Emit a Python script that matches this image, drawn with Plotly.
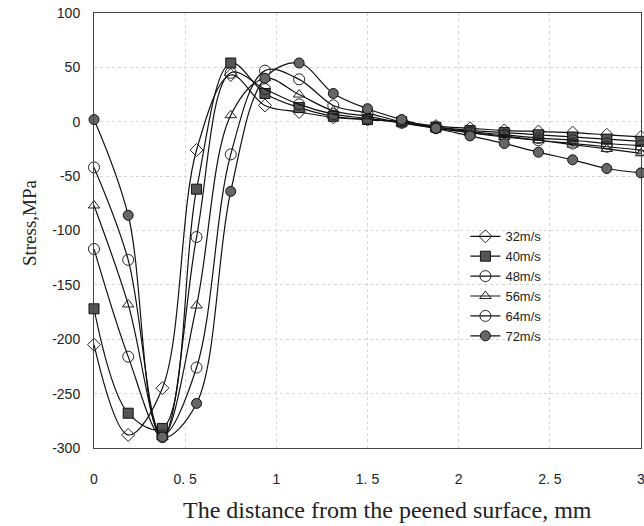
import plotly.graph_objects as go

# depth positions (mm)
depth = [0, 0.1875, 0.375, 0.5625, 0.75, 0.9375, 1.125, 1.3125, 1.5, 1.6875,
         1.875, 2.0625, 2.25, 2.4375, 2.625, 2.8125, 3.0]

speed_labels = ["32m/s", "40m/s", "48m/s", "56m/s", "64m/s", "72m/s"]

s32 = [-205, -288, -245, -26, 43, 15, 9, 4, 2, 0, -4, -6, -8, -9, -10, -12, -14]
s40 = [-172, -268, -282, -62, 54, 26, 13, 5, 2, 0, -5, -8, -10, -12, -14, -16, -18]
s48 = [-117, -216, -290, -106, 45, 30, 16, 7, 3, -1, -5, -9, -12, -15, -17, -20, -22]
s56 = [-77, -168, -290, -169, 6, 40, 25, 10, 5, -1, -6, -10, -14, -17, -21, -25, -29]
s64 = [-42, -127, -288, -226, -30, 47, 39, 15, 8, 0, -6, -10, -13, -17, -20, -23, -26]
s72 = [2, -86, -290, -259, -64, 40, 54, 26, 12, 2, -6, -13, -20, -28, -35, -43, -47]

x_tickvals = [0, 0.5, 1, 1.5, 2, 2.5, 3]
x_ticktext = ["0", "0. 5", "1", "1. 5", "2", "2. 5", "3"]
y_tickvals = [100, 50, 0, -50, -100, -150, -200, -250, -300]
y_ticktext = ["100", "50", "0", "-50", "-100", "-150", "-200", "-250", "-300"]

x_title = "The distance from the peened surface, mm"
y_title = "Stress,MPa"

series = [s32, s40, s48, s56, s64, s72]
styles = [
    dict(symbol="diamond-open", size=10, color="#222"),
    dict(symbol="square", size=10, color="#555", line=dict(color="#111", width=1)),
    dict(symbol="circle-open", size=11, color="#222"),
    dict(symbol="triangle-up-open", size=10, color="#222"),
    dict(symbol="circle-open", size=11, color="#222"),
    dict(symbol="circle", size=10, color="#666", line=dict(color="#111", width=1)),
]

fig = go.Figure()
for name, ys, mk in zip(speed_labels, series, styles):
    fig.add_trace(go.Scatter(
        x=depth, y=ys, name=name, mode="lines+markers",
        line=dict(color="#111", width=1.2, shape="spline", smoothing=1.0),
        marker=mk, cliponaxis=False,
    ))

tick_font = dict(family="Liberation Sans Narrow, Liberation Sans, sans-serif", size=14, color="#222")

fig.update_layout(
    width=644, height=526,
    margin=dict(l=94, r=3, t=13, b=78),
    paper_bgcolor="white", plot_bgcolor="white",
    showlegend=True,
    legend=dict(x=0.679, y=0.521, xanchor="left", yanchor="top",
                bgcolor="rgba(0,0,0,0)",
                font=dict(family="Liberation Sans Narrow, Liberation Sans, sans-serif", size=13, color="#222"),
                tracegroupgap=0, itemwidth=30),
    font=dict(family="Liberation Sans, sans-serif", color="#222"),
    annotations=[
        dict(text=x_title, xref="paper", yref="paper", x=0.536, y=-0.142,
             xanchor="center", yanchor="middle", showarrow=False,
             font=dict(family="Liberation Serif, serif", size=24, color="#222")),
        dict(text=y_title, xref="paper", yref="paper", x=-0.118, y=0.518,
             xanchor="center", yanchor="middle", showarrow=False, textangle=-90,
             font=dict(family="Liberation Serif, serif", size=19, color="#222")),
    ],
)
fig.update_xaxes(
    range=[0, 3], tickvals=x_tickvals, ticktext=x_ticktext, automargin=False,
    showline=True, linecolor="#444", linewidth=1, mirror=True,
    showgrid=True, gridcolor="#d6d6d6", griddash="dot", gridwidth=1,
    zeroline=False, ticks="", ticklabelstandoff=18, ticklabeloverflow="allow",
    tickfont=tick_font,
)
fig.update_yaxes(
    range=[-300, 100], tickvals=y_tickvals, ticktext=y_ticktext, automargin=False,
    showline=True, linecolor="#444", linewidth=1, mirror=True,
    showgrid=True, gridcolor="#d6d6d6", griddash="dot", gridwidth=1,
    zeroline=False, ticks="", ticklabelstandoff=10, ticklabeloverflow="allow",
    tickfont=tick_font,
)

fig.write_html(
    "out.html",
    config={"displayModeBar": False},
    post_script="document.body.style.margin='0';document.body.style.overflow='hidden';",
)
